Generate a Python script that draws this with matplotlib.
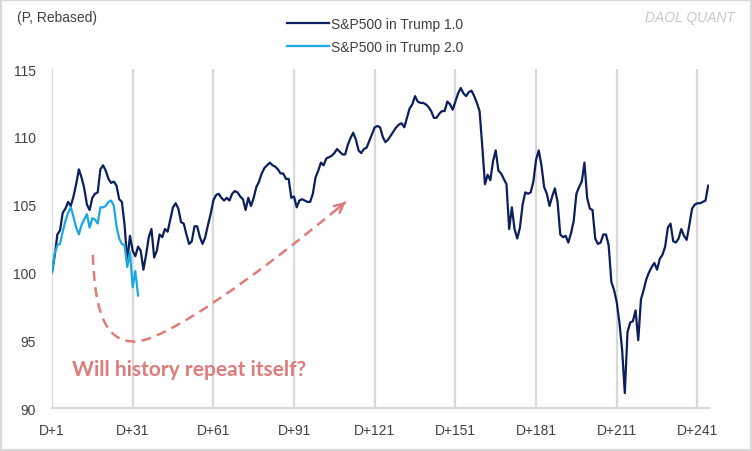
import numpy as np
import matplotlib.pyplot as plt
from matplotlib.path import Path
from matplotlib.patches import PathPatch, Rectangle

plt.rcParams['font.family'] = ['Liberation Sans', 'DejaVu Sans']

# S&P500 rebased to 100 on the first trading day
trump1 = [
    100.0, 101.2, 102.8, 103.1, 104.4, 104.7, 105.2, 104.9, 105.6, 106.5,
    107.6, 107.0, 106.2, 105.0, 104.6, 105.5, 105.8, 105.9, 107.6, 107.9,
    107.5, 106.9, 106.6, 106.7, 106.4, 105.4, 105.2, 103.5, 100.8, 102.7,
    101.6, 101.2, 101.9, 101.6, 100.2, 101.3, 102.6, 103.2, 101.1, 101.6,
    102.8, 102.6, 103.2, 103.0, 103.9, 104.8, 105.1, 104.7, 103.7, 103.6,
    102.8, 102.1, 102.3, 103.4, 103.4, 102.6, 102.1, 102.6, 103.5, 104.3,
    105.3, 105.7, 105.8, 105.5, 105.3, 105.5, 105.3, 105.8, 106.0, 105.9,
    105.6, 105.4, 104.6, 105.5, 104.9, 105.5, 106.3, 106.7, 107.3, 107.7,
    107.9, 108.1, 107.9, 107.8, 107.6, 107.3, 107.3, 106.9, 106.9, 105.5,
    105.6, 104.8, 105.3, 105.4, 105.3, 105.2, 105.2, 105.8, 107.0, 107.5,
    108.1, 107.9, 108.4, 108.5, 108.6, 108.8, 109.1, 108.9, 108.7, 108.7,
    109.4, 109.9, 110.3, 109.8, 109.0, 108.8, 109.1, 109.2, 109.7, 110.2,
    110.7, 110.8, 110.7, 110.0, 109.6, 109.8, 110.1, 110.4, 110.7, 110.9,
    111.0, 110.7, 111.4, 112.1, 112.4, 113.0, 112.6, 112.5, 112.5, 112.4,
    112.2, 111.9, 111.4, 111.4, 111.7, 111.9, 111.9, 112.6, 112.4, 112.0,
    112.6, 113.2, 113.6, 113.2, 113.0, 113.3, 113.4, 113.0, 112.5, 111.9,
    109.3, 106.5, 107.2, 106.8, 108.2, 109.0, 107.5, 107.3, 106.9, 106.5,
    103.2, 104.8, 103.2, 102.5, 103.3, 105.0, 105.9, 105.8, 105.9, 106.7,
    108.3, 109.0, 107.9, 106.3, 105.8, 104.9, 105.6, 106.2, 105.2, 102.8,
    102.6, 102.7, 102.2, 102.9, 103.8, 105.8, 106.3, 106.7, 108.1, 105.5,
    104.7, 104.6, 102.5, 102.1, 102.2, 102.8, 102.8, 102.0, 99.3, 98.7,
    97.8, 96.3, 94.3, 91.1, 95.6, 96.3, 96.4, 97.2, 95.0, 98.0,
    98.7, 99.5, 100.0, 100.4, 100.7, 100.2, 101.0, 101.3, 101.9, 103.3,
    103.6, 102.3, 102.2, 102.5, 103.2, 102.7, 102.4, 103.5, 104.7, 105.0,
    105.1, 105.1, 105.2, 105.3, 106.4,
]

trump2 = [
    100.0, 101.4, 102.0, 102.1, 103.0, 103.8, 104.4, 104.8, 104.1, 103.3,
    102.8, 103.5, 103.9, 104.3, 103.3, 104.0, 103.9, 103.6, 104.8, 104.8,
    104.9, 105.2, 105.3, 104.9, 103.4, 102.5, 102.1, 102.0, 100.4, 101.5,
    98.9, 100.1, 98.3,
]

labels = ['S&P500 in Trump 1.0', 'S&P500 in Trump 2.0']
tick_days = [1, 31, 61, 91, 121, 151, 181, 211, 241]
tick_labels = ['D+%d' % d for d in tick_days]
y_ticks = [90, 95, 100, 105, 110, 115]

c1 = '#0C1E5B'
c2 = '#19A8E0'
c_note = '#DD7C7A'
c_grid = '#D9D9D9'
c_text = '#404040'

fig = plt.figure(figsize=(7.52, 4.52), dpi=100)
ax = fig.add_axes([0.0691, 0.0951, 0.8737, 0.750])

ax.plot(np.arange(1, len(trump1) + 1), trump1, color=c1, lw=1.6, label=labels[0])
ax.plot(np.arange(1, len(trump2) + 1), trump2, color=c2, lw=1.6, label=labels[1])

ax.set_xlim(1, 245.3)
ax.set_ylim(90, 115)
ax.set_xticks(tick_days)
ax.set_xticklabels(tick_labels)
ax.set_yticks(y_ticks)
ax.grid(axis='x', color=c_grid, lw=1.6)
ax.set_axisbelow(True)
for s in ['top', 'right', 'left']:
    ax.spines[s].set_visible(False)
ax.spines['bottom'].set_color(c_grid)
ax.spines['bottom'].set_linewidth(1.6)
ax.tick_params(axis='both', length=0, labelsize=10, labelcolor=c_text)
ax.tick_params(axis='y', pad=11.5)
ax.tick_params(axis='x', pad=11)

# dashed "will it repeat" arrow
verts = [(16.2, 101.3), (17.0, 96.6), (21.8, 94.9), (31.8, 94.9),
         (43.0, 94.9), (78.3, 99.9), (110.2, 105.2)]
codes = [Path.MOVETO] + [Path.CURVE4] * 6
ax.add_patch(PathPatch(Path(verts, codes), fill=False, ec=c_note, lw=1.8,
                       linestyle=(0, (4, 2.5))))
ax.annotate('', xy=(110.2, 105.2), xytext=(107.0, 104.66),
            arrowprops=dict(arrowstyle='->', color=c_note, lw=1.8,
                            mutation_scale=16, shrinkA=0, shrinkB=0))
ax.text(8.4, 92.9, 'Will history repeat itself?', color=c_note,
        fontsize=15, fontweight='bold', family=['Lato', 'DejaVu Sans'],
        ha='left', va='center')

fig.legend(loc='upper center', bbox_to_anchor=(0.499, 0.975), frameon=False,
           fontsize=10, handlelength=3.0, handletextpad=0.2, labelspacing=0.6,
           borderpad=0, labelcolor=c_text)

fig.text(0.023, 0.96, '(P, Rebased)', fontsize=10, color=c_text, va='center')
fig.text(0.977, 0.96, 'DAOL QUANT', fontsize=10, color='#C8C8C8',
         style='italic', ha='right', va='center')

fig.patches.append(Rectangle((0, 0), 1, 1, transform=fig.transFigure,
                             fill=False, ec=c_grid, lw=3))

fig.savefig('out.png', dpi=100)
